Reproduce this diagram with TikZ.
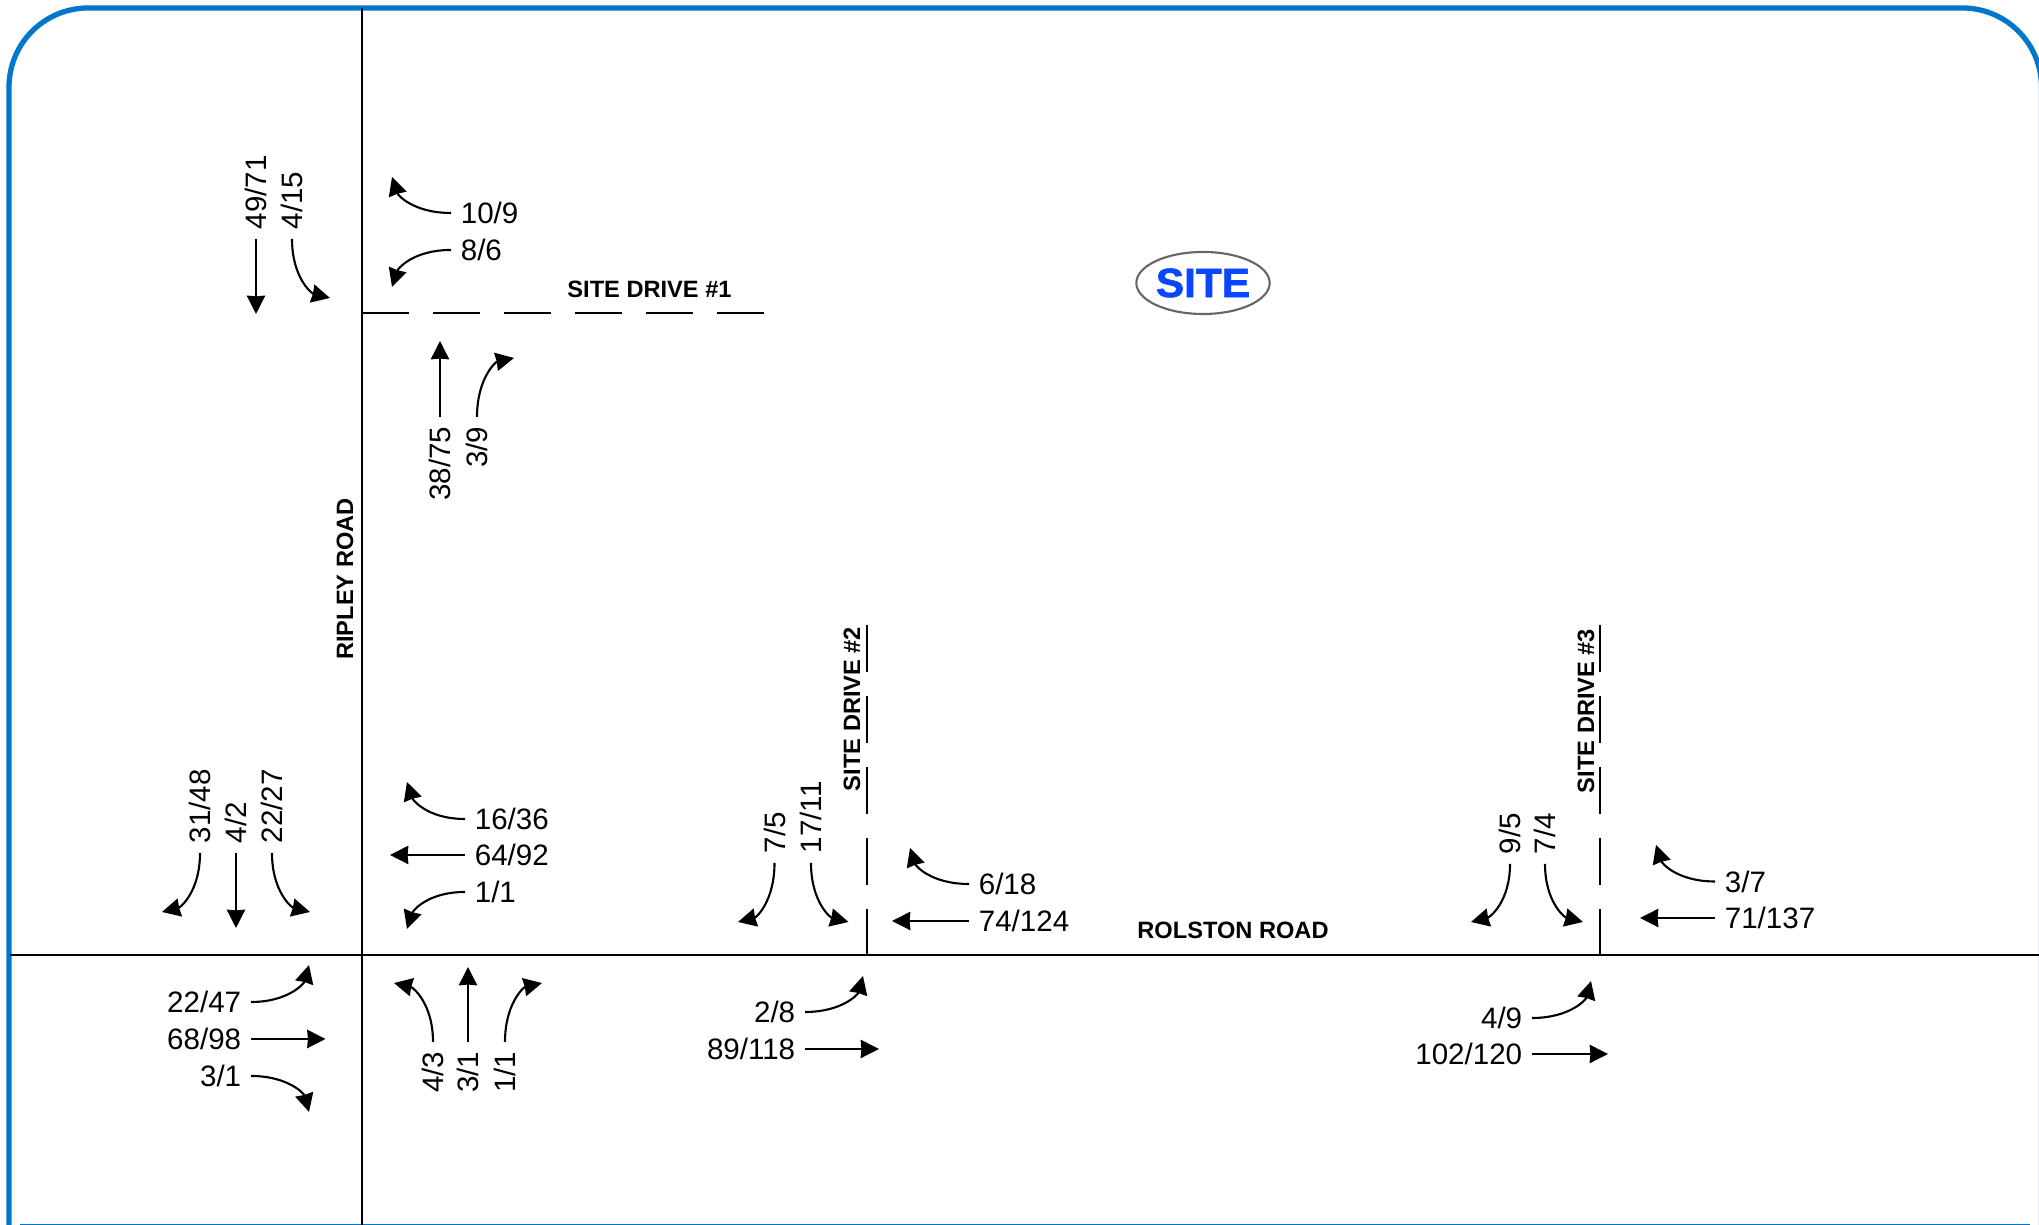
\documentclass[tikz,border=0pt]{standalone}
\usepackage{fontspec}
\setmainfont{Liberation Sans}
\newfontfamily\sitefont{Liberation Sans}[BoldFeatures={FakeBold=1.5,FakeStretch=1.04}]
\usepackage{xcolor}
\usetikzlibrary{arrows.meta,positioning,shapes.geometric}
\definecolor{frameblue}{RGB}{0,119,200}
\definecolor{siteblue}{RGB}{10,70,255}

\begin{document}
\begin{tikzpicture}[
          x=0.01cm, y=0.01cm,
          every node/.style={font=\fontsize{8.4}{10}\selectfont},
          vol/.style={inner xsep=2.6pt, inner ysep=0pt, text height=6pt, text depth=0pt},
          volv/.style={vol, rotate=90},
          arr/.style={-{Stealth[length=5.2pt,width=5.2pt,inset=0.2pt]}, semithick, out looseness=1.4, in looseness=0.7},
          frame/.style={draw=frameblue, line width=1.5pt},
          road/.style={draw, semithick},
          drive/.style={draw, semithick, dash pattern=on 13.37pt off 6.83pt},
          roadname/.style={font=\fontsize{6.72}{8}\selectfont\bfseries, inner sep=0pt},
          sitemark/.style={draw=gray!80!black, fill=white, ellipse, semithick, minimum width=1.32cm, minimum height=0.62cm, inner sep=0pt, font=\fontsize{11.6}{12}\sitefont\bfseries, text=siteblue},
        ]
          \useasboundingbox (0,0) rectangle (2039,1225);
          \draw[frame, rounded corners=22.5pt] (9,0) -- (9,1217) -- (2041.5,1217) -- (2041.5,0);
          \draw[frame] (20,-1.5) -- (2030,-1.5);

          \coordinate (ripN) at (362,1217);
          \coordinate (ripS) at (362,0);
          \coordinate (rolW) at (10,270);
          \coordinate (rolE) at (2039,270);
          \coordinate (sd1W) at (362,912);
          \coordinate (sd1E) at (766,912);
          \coordinate (sd2N) at (867,600);
          \coordinate (sd2S) at (867,270);
          \coordinate (sd3N) at (1600,600);
          \coordinate (sd3S) at (1600,270);
          \draw[road] (ripN) -- (ripS);
          \draw[road] (rolW) -- (rolE);
          \draw[drive] (sd1W) -- (sd1E);
          \draw[drive] (sd2N) -- (sd2S);
          \draw[drive] (sd3N) -- (sd3S);

          \node[roadname, rotate=90] (ripley) at (345,646) {RIPLEY ROAD};
          \node[roadname] (rolston) at (1233,295) {ROLSTON ROAD};
          \node[roadname] (site1) at (649.5,936) {SITE DRIVE \#1};
          \node[roadname, rotate=90] (site2) at (852,516) {SITE DRIVE \#2};
          \node[roadname, rotate=90] (site3) at (1586,514) {SITE DRIVE \#3};
          \node[sitemark] (site) at (1203,942) {SITE};

          \node[vol, anchor=west] (aWbL) at (451,1012) {10/9};
          \coordinate (aWbLt) at (392,1048);
          \draw[arr] (aWbL.west) to[out=180, in=-72] (aWbLt);
          \node[vol, anchor=west] (aWbR) at (451,975) {8/6};
          \coordinate (aWbRt) at (392,938);
          \draw[arr] (aWbR.west) to[out=180, in=72] (aWbRt);
          \node[volv, anchor=west] (aSbT) at (256,986) {49/71};
          \coordinate (aSbTt) at (256,911);
          \draw[arr] (aSbT.west) -- (aSbTt);
          \node[volv, anchor=west] (aSbL) at (292,986) {4/15};
          \coordinate (aSbLt) at (330,927);
          \draw[arr] (aSbL.west) to[out=-90, in=166] (aSbLt);
          \node[volv, anchor=east] (aNbT) at (440,808) {38/75};
          \coordinate (aNbTt) at (440,884);
          \draw[arr] (aNbT.east) -- (aNbTt);
          \node[volv, anchor=east] (aNbR) at (477,808) {3/9};
          \coordinate (aNbRt) at (514,867);
          \draw[arr] (aNbR.east) to[out=90, in=192] (aNbRt);

          \node[volv, anchor=west] (bSbR) at (200,372) {31/48};
          \coordinate (bSbRt) at (162,313);
          \draw[arr] (bSbR.west) to[out=-90, in=14] (bSbRt);
          \node[volv, anchor=west] (bSbT) at (236,372) {4/2};
          \coordinate (bSbTt) at (236,297);
          \draw[arr] (bSbT.west) -- (bSbTt);
          \node[volv, anchor=west] (bSbL) at (272,372) {22/27};
          \coordinate (bSbLt) at (310,313);
          \draw[arr] (bSbL.west) to[out=-90, in=166] (bSbLt);
          \node[vol, anchor=west] (bWbR) at (465,406) {16/36};
          \coordinate (bWbRt) at (407,443);
          \draw[arr] (bWbR.west) to[out=180, in=-72] (bWbRt);
          \node[vol, anchor=west] (bWbT) at (465,370) {64/92};
          \coordinate (bWbTt) at (390,370);
          \draw[arr] (bWbT.west) -- (bWbTt);
          \node[vol, anchor=west] (bWbL) at (465,333) {1/1};
          \coordinate (bWbLt) at (407,296);
          \draw[arr] (bWbL.west) to[out=180, in=72] (bWbLt);
          \node[vol, anchor=east] (bEbL) at (251,223) {22/47};
          \coordinate (bEbLt) at (309,260);
          \draw[arr] (bEbL.east) to[out=0, in=-105] (bEbLt);
          \node[vol, anchor=east] (bEbT) at (251,186) {68/98};
          \coordinate (bEbTt) at (325.5,186);
          \draw[arr] (bEbT.east) -- (bEbTt);
          \node[vol, anchor=east] (bEbR) at (251,149) {3/1};
          \coordinate (bEbRt) at (309,113);
          \draw[arr] (bEbR.east) to[out=0, in=105] (bEbRt);
          \node[volv, anchor=east] (bNbL) at (433,183) {4/3};
          \coordinate (bNbLt) at (394,242);
          \draw[arr] (bNbL.east) to[out=90, in=-13] (bNbLt);
          \node[volv, anchor=east] (bNbT) at (468,183) {3/1};
          \coordinate (bNbTt) at (468,258);
          \draw[arr] (bNbT.east) -- (bNbTt);
          \node[volv, anchor=east] (bNbR) at (505,183) {1/1};
          \coordinate (bNbRt) at (542,242);
          \draw[arr] (bNbR.east) to[out=90, in=193] (bNbRt);

          \node[volv, anchor=west] (cSbR) at (774.5,362) {7/5};
          \coordinate (cSbRt) at (738,303);
          \draw[arr] (cSbR.west) to[out=-90, in=14] (cSbRt);
          \node[volv, anchor=west] (cSbL) at (811,362) {17/11};
          \coordinate (cSbLt) at (848.5,303);
          \draw[arr] (cSbL.west) to[out=-90, in=166] (cSbLt);
          \node[vol, anchor=east] (cEbL) at (805,213) {2/8};
          \coordinate (cEbLt) at (863,249);
          \draw[arr] (cEbL.east) to[out=0, in=-105] (cEbLt);
          \node[vol, anchor=east] (cEbT) at (805,176) {89/118};
          \coordinate (cEbTt) at (879,176);
          \draw[arr] (cEbT.east) -- (cEbTt);
          \node[vol, anchor=west] (cWbR) at (969,341) {6/18};
          \coordinate (cWbRt) at (910,377);
          \draw[arr] (cWbR.west) to[out=180, in=-72] (cWbRt);
          \node[vol, anchor=west] (cWbT) at (969,304) {74/124};
          \coordinate (cWbTt) at (892,304);
          \draw[arr] (cWbT.west) -- (cWbTt);

          \node[volv, anchor=west] (dSbR) at (1510,361) {9/5};
          \coordinate (dSbRt) at (1471,303);
          \draw[arr] (dSbR.west) to[out=-90, in=14] (dSbRt);
          \node[volv, anchor=west] (dSbL) at (1545,361) {7/4};
          \coordinate (dSbLt) at (1583,303);
          \draw[arr] (dSbL.west) to[out=-90, in=166] (dSbLt);
          \node[vol, anchor=east] (dEbL) at (1532,207) {4/9};
          \coordinate (dEbLt) at (1591,244);
          \draw[arr] (dEbL.east) to[out=0, in=-105] (dEbLt);
          \node[vol, anchor=east] (dEbT) at (1532,171) {102/120};
          \coordinate (dEbTt) at (1608,171);
          \draw[arr] (dEbT.east) -- (dEbTt);
          \node[vol, anchor=west] (dWbR) at (1715,343.5) {3/7};
          \coordinate (dWbRt) at (1656,380);
          \draw[arr] (dWbR.west) to[out=180, in=-72] (dWbRt);
          \node[vol, anchor=west] (dWbT) at (1715,307) {71/137};
          \coordinate (dWbTt) at (1640,307);
          \draw[arr] (dWbT.west) -- (dWbTt);
        \end{tikzpicture}
\end{document}
